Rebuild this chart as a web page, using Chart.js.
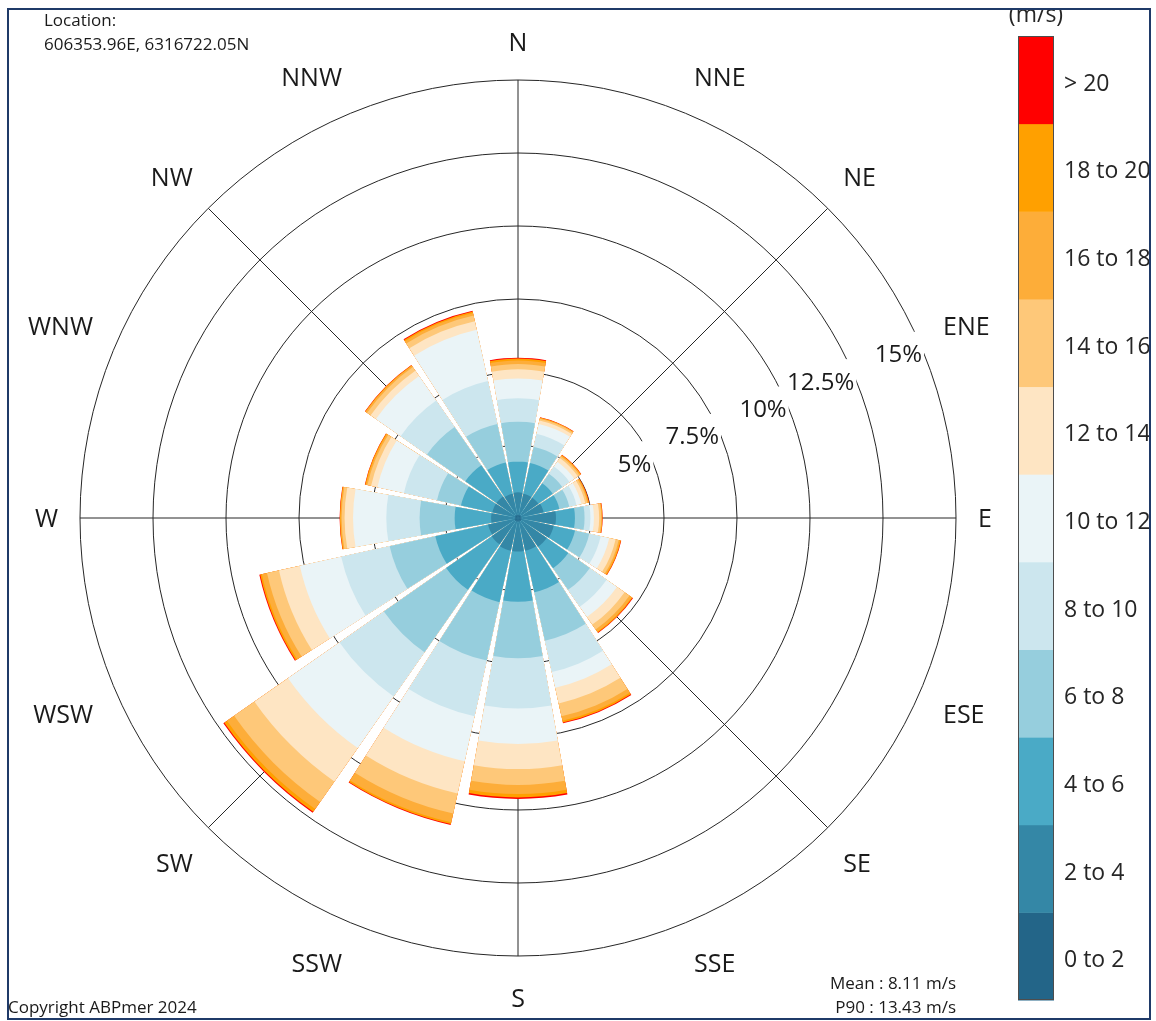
<!DOCTYPE html>
<html>
<head>
<meta charset="utf-8">
<title>Wind rose</title>
<script src="https://cdn.jsdelivr.net/npm/chart.js@4.4.1/dist/chart.umd.min.js"></script>
<style>
  html, body { margin: 0; padding: 0; background: #ffffff; }
  #wrap { position: relative; width: 1156px; height: 1021px; }
  canvas { display: block; }
</style>
</head>
<body>
<div id="wrap"><canvas id="rose" width="1156" height="1021"></canvas></div>
<script>
// Compass sectors, clockwise from north
const directions = ['N', 'NNE', 'NE', 'ENE', 'E', 'ESE', 'SE', 'SSE', 'S', 'SSW', 'SW', 'WSW', 'W', 'WNW', 'NW', 'NNW'];

// Wind speed classes (m/s) and their colours
const speedBins = ['0 to 2', '2 to 4', '4 to 6', '6 to 8', '8 to 10', '10 to 12', '12 to 14', '14 to 16', '16 to 18', '18 to 20', '> 20'];
const binColors = ['#236588', '#3487a6', '#4aaac6', '#96cedd', '#cce6ee', '#eaf4f7', '#fee5c3', '#fec879', '#fdad39', '#ffa000', '#ff0000'];

// Frequency of occurrence (%) per speed class, one value per direction (N ... NNW)
const freq0to2   = [0.11, 0.11, 0.11, 0.11, 0.12, 0.12, 0.12, 0.12, 0.12, 0.12, 0.12, 0.12, 0.11, 0.11, 0.11, 0.11];
const freq2to4   = [0.77, 0.74, 0.74, 0.79, 1.18, 1.13, 1.08, 1.03, 1.03, 1.03, 0.98, 0.93, 0.81, 0.79, 0.79, 0.74];
const freq4to6   = [1.05, 1.08, 0.60, 0.55, 0.65, 0.75, 0.90, 1.45, 1.72, 1.80, 1.90, 1.85, 1.25, 1.10, 1.30, 1.10];
const freq6to8   = [1.37, 0.57, 0.40, 0.35, 0.33, 0.50, 0.90, 1.70, 1.93, 2.05, 2.60, 1.60, 1.20, 0.84, 1.60, 1.35];
const freq8to10  = [0.80, 0.45, 0.30, 0.25, 0.20, 0.40, 0.70, 1.10, 1.72, 1.95, 1.85, 1.70, 1.14, 1.16, 1.10, 1.50];
const freq10to12 = [0.68, 0.35, 0.20, 0.17, 0.12, 0.30, 0.43, 0.55, 1.22, 1.58, 2.15, 1.45, 1.14, 0.93, 1.03, 1.80];
const freq12to14 = [0.31, 0.12, 0.15, 0.14, 0.18, 0.22, 0.32, 0.55, 0.86, 1.13, 1.40, 0.73, 0.29, 0.22, 0.22, 0.30];
const freq14to16 = [0.18, 0.06, 0.07, 0.07, 0.07, 0.11, 0.20, 0.45, 0.54, 0.70, 0.85, 0.42, 0.10, 0.13, 0.15, 0.20];
const freq16to18 = [0.12, 0.03, 0.04, 0.04, 0.03, 0.05, 0.10, 0.16, 0.31, 0.31, 0.30, 0.18, 0.04, 0.05, 0.06, 0.09];
const freq18to20 = [0.07, 0.01, 0.02, 0.02, 0.01, 0.03, 0.03, 0.06, 0.12, 0.06, 0.11, 0.06, 0.02, 0.03, 0.02, 0.05];
const freqOver20 = [0.03, 0.01, 0.01, 0.01, 0.01, 0.01, 0.02, 0.03, 0.05, 0.03, 0.04, 0.03, 0.01, 0.01, 0.01, 0.03];

// Radial rings (%) and the ones that carry a label
const ringValues = [2.5, 5, 7.5, 10, 12.5, 15];
const ringLabelValues = [5, 7.5, 10, 12.5, 15];
const ringLabels = ['5%', '7.5%', '10%', '12.5%', '15%'];

const locationText = ['Location:', '606353.96E, 6316722.05N'];
const statsText = ['Mean : 8.11 m/s', 'P90 : 13.43 m/s'];
const copyrightText = 'Copyright ABPmer 2024';
const unitsText = '(m/s)';

const FONT = "'Open Sans', 'Noto Sans', 'DejaVu Sans', sans-serif";
const INK = '#1a1a1a';

// Each sector covers 90% of its 22.5 degree slot; the rest is a white gap.
const SLOT = 360 / directions.length;
const SECTOR = SLOT * 0.9;
const GAP = SLOT - SECTOR;

// Stack the classes: each dataset holds the running total up to its class,
// drawn largest first so the lower classes sit on top.
const binSeries = [freq0to2, freq2to4, freq4to6, freq6to8, freq8to10, freq10to12,
                   freq12to14, freq14to16, freq16to18, freq18to20, freqOver20];
let running = directions.map(() => 0);
const stacked = binSeries.map(series => {
  running = running.map((v, i) => v + series[i]);
  return running.slice();
});

// Sector layout around the circle: north is split in two halves so that it is
// centred on the north axis; a zero-height element between sectors makes the gap.
function sectorData(values) {
  const out = [values[0]];
  for (let i = 1; i < values.length; i++) out.push(0, values[i]);
  out.push(0, values[0]);
  return out;
}
const slotCount = directions.length * 2 + 1;
function slotAngle(idx) {
  if (idx === 0 || idx === slotCount - 1) return SECTOR / 2;
  return idx % 2 === 1 ? GAP : SECTOR;
}
function slotLabels() {
  const out = [directions[0]];
  for (let i = 1; i < directions.length; i++) out.push('', directions[i]);
  out.push('', directions[0]);
  return out;
}

const datasets = stacked.map((vals, i) => ({
  label: speedBins[i],
  data: sectorData(vals),
  backgroundColor: binColors[i],
  borderWidth: 0,
  angle: ctx => slotAngle(ctx.dataIndex)
}));

function font(size) { return size + 'px ' + FONT; }

const decor = {
  id: 'roseDecor',
  beforeDraw(chart) {
    const ctx = chart.ctx;
    ctx.save();
    ctx.fillStyle = '#ffffff';
    ctx.fillRect(0, 0, chart.width, chart.height);
    ctx.restore();
  },
  // Ring labels sit on a white backdrop that interrupts the ring lines
  beforeDatasetsDraw(chart) {
    const ctx = chart.ctx;
    const s = chart.scales.r;
    const cx = s.xCenter, cy = s.yCenter;
    ctx.save();
    ctx.font = font(24);
    ctx.textAlign = 'left';
    ctx.textBaseline = 'alphabetic';
    const capH = ctx.measureText('0').actualBoundingBoxAscent;
    ringLabelValues.forEach((v, i) => {
      const r = s.getDistanceFromCenterForValue(v);
      const dy = 0.375 * r;
      const yMid = cy - dy;
      const xEdge = cx + Math.sqrt(r * r - dy * dy);
      const w = ctx.measureText(ringLabels[i]).width;
      const xRight = xEdge - 2;
      ctx.fillStyle = '#ffffff';
      ctx.fillRect(xRight - w - 3, yMid - 22, w + 5, 36);
      ctx.fillStyle = INK;
      ctx.fillText(ringLabels[i], xRight - w, yMid + capH / 2);
    });
    ctx.restore();
  },
  afterDraw(chart) {
    const ctx = chart.ctx;
    const s = chart.scales.r;
    const cx = s.xCenter, cy = s.yCenter;
    const frame = { l: 8, t: 9, r: 1150, b: 1019 };

    ctx.save();
    ctx.beginPath();
    ctx.rect(frame.l, frame.t, frame.r - frame.l, frame.b - frame.t);
    ctx.clip();

    // Compass labels: the text box touches a circle just outside the outer ring
    ctx.font = font(25);
    ctx.fillStyle = INK;
    ctx.textAlign = 'left';
    ctx.textBaseline = 'alphabetic';
    const capC = ctx.measureText('N').actualBoundingBoxAscent;
    const R = s.drawingArea + 22;
    directions.forEach((d, k) => {
      const a = k * SLOT * Math.PI / 180;
      const sn = Math.sin(a), cs = Math.cos(a);
      const px = cx + R * sn, py = cy - R * cs;
      const w = ctx.measureText(d).width;
      let left = px - w / 2;
      if (sn > 0.1) left = px;
      else if (sn < -0.1) left = px - w;
      let base = py + capC / 2;
      if (cs > 0.1) base = py - 7;
      else if (cs < -0.1) base = py + 11 + capC;
      ctx.fillText(d, left, base);
    });

    // Location block
    ctx.font = font(17);
    ctx.fillText(locationText[0], 44, 26);
    ctx.fillText(locationText[1], 44, 49.5);

    // Summary statistics, right aligned with the outer ring
    ctx.textAlign = 'right';
    const statX = cx + s.drawingArea;
    ctx.fillText(statsText[0], statX, 989);
    ctx.fillText(statsText[1], statX, 1013);

    ctx.textAlign = 'left';
    ctx.fillText(copyrightText, 8, 1013);

    // Colour scale for the speed classes
    const barX = 1018, barW = 36, barTop = 36, barBottom = 1000;
    const segH = (barBottom - barTop) / speedBins.length;
    speedBins.forEach((lab, i) => {
      const y1 = barBottom - (i + 1) * segH;
      ctx.fillStyle = binColors[i];
      ctx.fillRect(barX, y1, barW, segH + 0.5);
    });
    ctx.strokeStyle = '#4d4d4d';
    ctx.lineWidth = 1;
    ctx.strokeRect(barX + 0.5, barTop + 0.5, barW - 1, barBottom - barTop - 1);

    ctx.font = font(23);
    ctx.fillStyle = '#262626';
    const capB = ctx.measureText('0').actualBoundingBoxAscent;
    speedBins.forEach((lab, i) => {
      const yc = barBottom - (i + 0.5) * segH + 2.5;
      ctx.fillText(lab, 1064, yc + capB / 2);
    });
    ctx.textAlign = 'center';
    ctx.fillText(unitsText, barX + barW / 2, 22);
    ctx.restore();

    // Outer frame
    ctx.save();
    ctx.strokeStyle = '#1f3a68';
    ctx.lineWidth = 2;
    ctx.strokeRect(frame.l, frame.t, frame.r - frame.l, frame.b - frame.t);
    ctx.restore();
  }
};

function build() {
  new Chart(document.getElementById('rose'), {
    type: 'polarArea',
    data: { labels: slotLabels(), datasets },
    options: {
      responsive: false,
      animation: false,
      devicePixelRatio: 1,
      layout: { padding: { left: 80, right: 200, top: 80, bottom: 65 } },
      plugins: { legend: { display: false }, tooltip: { enabled: false } },
      scales: {
        r: {
          type: 'radialLinear',
          labels: directions,
          min: 0,
          max: 15,
          startAngle: 0,
          ticks: { display: false, stepSize: 2.5 },
          grid: { display: true, circular: true, color: '#262626', lineWidth: 1 },
          angleLines: {
            display: true,
            color: '#262626',
            lineWidth: ctx => (ctx.index % 2 === 0 ? 1 : 0)
          },
          pointLabels: { display: false }
        }
      }
    },
    plugins: [decor]
  });
}

if (document.fonts && document.fonts.load) {
  Promise.all([
    document.fonts.load(font(24)),
    document.fonts.load(font(17))
  ]).then(build, build);
} else {
  build();
}
</script>
</body>
</html>
